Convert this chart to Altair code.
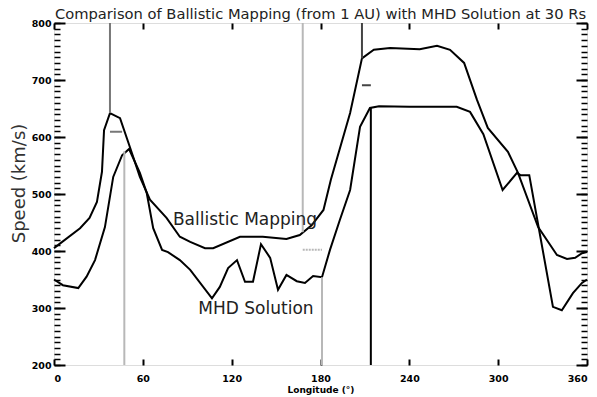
import altair as alt
import pandas as pd

# ---- data ----
ballistic_lon = [0, 17.6, 24, 29, 32.4, 33.8, 37.8, 44.6, 51.3, 58, 64.8, 76, 85, 92, 102, 107.5,
                 125.6, 141, 157, 166, 174, 182, 187, 200, 208, 216, 227, 247, 258.7, 267.5, 277,
                 285.7, 293, 306.6, 313.4, 327, 339.7, 346.5, 352, 356.6, 360]
ballistic_speed = [405, 440, 458, 486, 539, 612, 642, 633, 582, 530, 490, 458, 425, 416, 405, 405,
                   425, 425, 421, 428, 445, 472, 525, 642, 738, 753, 756, 754, 760, 753, 730,
                   665, 616, 574, 537, 442, 393, 386, 388, 396, 398]

mhd_lon = [0, 6, 16.4, 22, 27.7, 34.4, 40, 46, 50.7, 58, 62.6, 67, 73, 77, 85, 92, 106.7, 112,
           117.6, 123.6, 129, 134.4, 139.8, 146, 151.3, 157, 164, 169.5, 175, 181, 186.4, 193, 200,
           206.7, 213.4, 219.5, 240, 272, 281, 290, 303, 312.7, 315, 321, 328, 337, 343, 350.5,
           356.6, 360]
mhd_speed = [350, 340, 335, 355, 384, 442, 530, 568, 579, 537, 502, 440, 402, 398, 384, 367, 317, 337,
             370, 384, 346, 346, 412, 388, 332, 358, 347, 344, 356, 354, 402, 454, 507,
             618, 651, 654, 653, 653, 644, 605, 507, 537, 533, 533, 432, 302, 296, 326,
             344, 350]

rule_lon = [37.8, 47.5, 168, 181, 208, 214]
rule_top = [800, 575, 800, 354, 800, 651]
rule_bottom = [642, 200, 433, 200, 738, 200]
rule_kind = ["mid", "light", "light", "light", "dark", "black"]

dash_lon_start = [37.8, 168, 208]
dash_lon_end = [46, 181, 214]
dash_speed = [609, 402, 691]
dash_kind = ["mid", "light", "dark"]

label_text = ["Ballistic Mapping", "MHD Solution"]
label_lon = [129, 136.4]
label_speed = [455, 298]

x_major = [0, 60, 120, 180, 240, 300, 360]
y_major = [200, 300, 400, 500, 600, 700, 800]
y_minor = list(range(200, 801, 10))

TITLE = "Comparison of Ballistic Mapping (from 1 AU) with MHD Solution at 30 Rs"
FONT = "DejaVu Sans"

# ---- tables ----
df_b = pd.DataFrame({"lon": ballistic_lon, "speed": ballistic_speed})
df_m = pd.DataFrame({"lon": mhd_lon, "speed": mhd_speed})
df_r = pd.DataFrame({"lon": rule_lon, "top": rule_top, "bottom": rule_bottom, "kind": rule_kind})
df_d = pd.DataFrame({"lon": dash_lon_start, "lon2": dash_lon_end, "speed": dash_speed, "kind": dash_kind})
df_t = pd.DataFrame({"text": label_text, "lon": label_lon, "speed": label_speed})

xs = alt.Scale(domain=[0, 360], nice=False, zero=False)
ys = alt.Scale(domain=[200, 800], nice=False, zero=False)
kind_scale = alt.Scale(domain=["mid", "light", "dark", "black"],
                       range=["#777777", "#b8b8b8", "#444444", "#000000"])
dash_scale = alt.Scale(domain=["mid", "light", "dark"],
                       range=[[1, 0], [2, 1], [1, 0]])


def tick_axis(orient, values, size, **kw):
    return alt.Axis(orient=orient, values=values, offset=-size, tickSize=size,
                    labels=False, domain=False, title=None, ticks=True, grid=False,
                    tickColor="black", **kw)


x_label_axis = alt.Axis(orient="bottom", values=x_major, ticks=False, domain=False, grid=False,
                        labelFont=FONT, labelFontWeight="bold", labelFontSize=9.5,
                        labelColor="black", labelPadding=8,
                        title="Longitude (°)", titleFont=FONT, titleFontWeight="bold",
                        titleFontSize=9, titleColor="black", titlePadding=3)
y_label_axis = alt.Axis(orient="left", values=y_major, ticks=False, domain=False, grid=False,
                        labelFont=FONT, labelFontWeight="bold", labelFontSize=9.5,
                        labelColor="black", labelPadding=3,
                        title="Speed (km/s)", titleFont=FONT, titleFontWeight="normal",
                        titleFontSize=18, titleColor="#333333", titlePadding=3, titleY=160)

ballistic = alt.Chart(df_b).mark_line(color="black", strokeWidth=2).encode(
    x=alt.X("lon:Q", scale=xs, axis=x_label_axis),
    y=alt.Y("speed:Q", scale=ys, axis=y_label_axis),
    order="lon:Q",
)

mhd = alt.Chart(df_m).mark_line(color="black", strokeWidth=2).encode(
    x=alt.X("lon:Q", scale=xs, axis=tick_axis("bottom", x_major, 6, tickWidth=2)),
    y=alt.Y("speed:Q", scale=ys, axis=tick_axis("left", y_major, 11, tickWidth=2)),
    order="lon:Q",
)

rules = alt.Chart(df_r).mark_rule(strokeWidth=2).encode(
    x=alt.X("lon:Q", scale=xs, axis=tick_axis("top", x_major, 6, tickWidth=2)),
    y=alt.Y("top:Q", scale=ys, axis=tick_axis("left", y_minor, 6, tickWidth=1.5)),
    y2="bottom:Q",
    color=alt.Color("kind:N", scale=kind_scale, legend=None),
)

dashes = alt.Chart(df_d).mark_rule(strokeWidth=2).encode(
    x=alt.X("lon:Q", scale=xs, axis=None),
    x2="lon2:Q",
    y=alt.Y("speed:Q", scale=ys, axis=tick_axis("right", y_major, 11, tickWidth=2)),
    color=alt.Color("kind:N", scale=kind_scale, legend=None),
    strokeDash=alt.StrokeDash("kind:N", scale=dash_scale, legend=None),
)

labels = alt.Chart(df_t).mark_text(font=FONT, fontSize=17, color="#222222",
                                   align="center", baseline="middle").encode(
    x=alt.X("lon:Q", scale=xs, axis=None),
    y=alt.Y("speed:Q", scale=ys, axis=tick_axis("right", y_minor, 6, tickWidth=1.5)),
    text="text:N",
)

chart = alt.layer(ballistic, mhd, rules, dashes, labels).resolve_axis(
    x="independent", y="independent"
).properties(
    width=533,
    height=342,
    autosize="none",
    padding={"left": 54, "top": 23, "right": 10, "bottom": 32},
    title=alt.TitleParams(text=TITLE, font=FONT, fontSize=14.7, fontWeight="normal",
                          color="#222222", anchor="middle", offset=-16,
                          baseline="alphabetic", frame="group"),
).configure_view(
    stroke="black", strokeWidth=2
).configure_axis(
    grid=False
).configure(background="white")

chart.save("out.html", embed_options={"renderer": "svg", "actions": False})
